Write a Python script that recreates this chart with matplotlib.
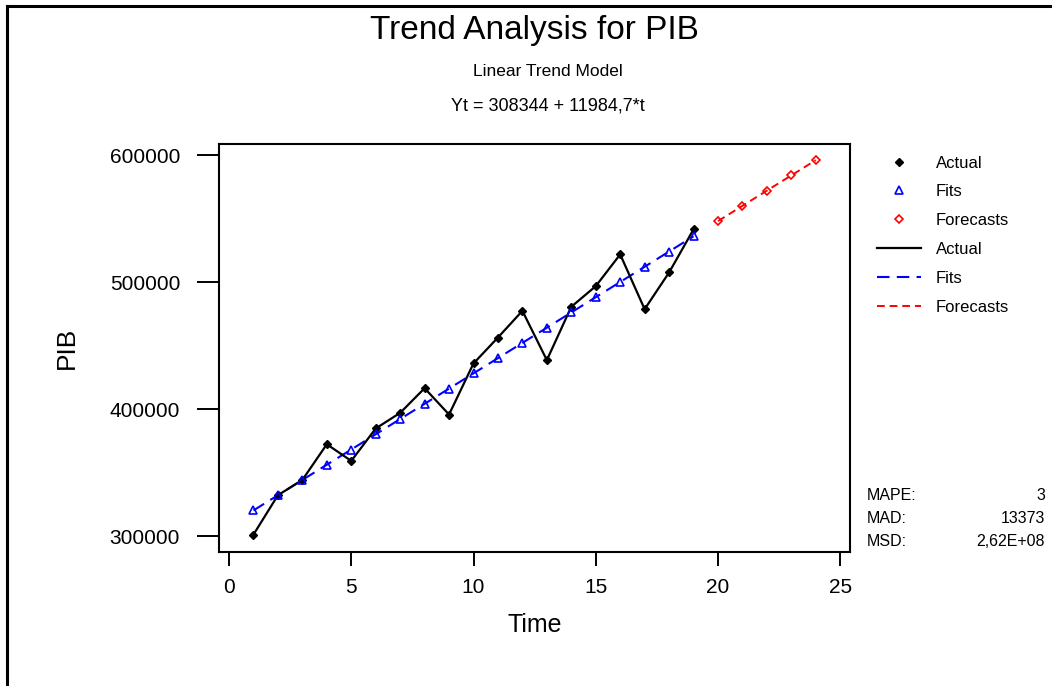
import numpy as np
import matplotlib
matplotlib.use('Agg')
import matplotlib.pyplot as plt
from matplotlib.lines import Line2D

# data
t_actual = list(range(1, 20))
actual = [301300, 332300, 344300, 372400, 359300, 384800, 397100, 416500, 395800,
          436000, 456400, 477400, 438600, 480600, 496800, 521800, 478700, 507600, 541500]
fits = [320329, 332313, 344298, 356283, 368268, 380252, 392237, 404222, 416206,
        428191, 440176, 452160, 464145, 476130, 488115, 500099, 512084, 524069, 536053]
t_fc = [20, 21, 22, 23, 24]
forecasts = [548038, 560023, 572007, 583992, 595977]

x_ticks = [0, 5, 10, 15, 20, 25]
y_ticks = [300000, 400000, 500000, 600000]
stat_names = ['MAPE:', 'MAD:', 'MSD:']
stat_values = ['3', '13373', '2,62E+08']

plt.rcParams['font.family'] = ['Liberation Sans', 'DejaVu Sans']

W, H = 1052, 686
fig = plt.figure(figsize=(W / 100, H / 100), dpi=100)
ax = fig.add_axes([219 / W, 1 - 552 / H, (850 - 219) / W, (552 - 144) / H])

ax.plot(t_actual, actual, color='black', lw=1.6, marker='D', ms=3.6, zorder=3)
ax.plot(t_actual, fits, color='blue', lw=1.5, dashes=(6, 3.5), zorder=2)
ax.plot(t_actual, fits, ls='none', marker='^', ms=6, mfc='none', mec='blue', mew=1.2, zorder=4)
ax.plot(t_fc, forecasts, color='red', lw=1.4, dashes=(4, 2.5), zorder=2)
ax.plot(t_fc, forecasts, ls='none', marker='D', ms=4.5, mfc='none', mec='red', mew=1.2, zorder=4)

ax.set_xlim(-0.41, 25.4)
ax.set_ylim(287600, 608700)
ax.set_xticks(x_ticks)
ax.set_yticks(y_ticks)
ax.set_yticklabels([str(v) for v in y_ticks])
ax.tick_params(axis='y', length=16, width=1.4, pad=12, labelsize=15)
ax.tick_params(axis='x', length=10, width=1.4, pad=9, labelsize=15)
for s in ax.spines.values():
    s.set_linewidth(1.5)

ax.set_ylabel('PIB', fontsize=19, labelpad=22)
ax.set_xlabel('Time', fontsize=18, labelpad=11)

fig.text(534 / W, 1 - 31 / H, 'Trend Analysis for PIB', fontsize=24,
         ha='center', va='center')
fig.text(548 / W, 1 - 71 / H, 'Linear Trend Model', fontsize=12.5,
         ha='center', va='center')
fig.text(548 / W, 1 - 106 / H, 'Yt = 308344 + 11984,7*t', fontsize=13,
         ha='center', va='center')

handles = [
    Line2D([], [], ls='none', marker='D', ms=3.6, color='black'),
    Line2D([], [], ls='none', marker='^', ms=6, mfc='none', mec='blue', mew=1.2),
    Line2D([], [], ls='none', marker='D', ms=4.5, mfc='none', mec='red', mew=1.2),
    Line2D([], [], color='black', lw=1.6),
    Line2D([], [], color='blue', lw=1.5, dashes=(6, 3.5)),
    Line2D([], [], color='red', lw=1.4, dashes=(4, 2.5)),
]
labels = ['Actual', 'Fits', 'Forecasts', 'Actual', 'Fits', 'Forecasts']
fig.legend(handles, labels, loc='upper left', bbox_to_anchor=(877 / W, 1 - 155.5 / H),
           frameon=False, fontsize=12, handlelength=2.64, handletextpad=0.9,
           labelspacing=0.83, borderpad=0, borderaxespad=0)

for i, (nm, val) in enumerate(zip(stat_names, stat_values)):
    y = 1 - (495 + 23.5 * i) / H
    fig.text(867 / W, y, nm, fontsize=11.5, ha='left', va='center')
    fig.text(1045 / W, y, val, fontsize=11.5, ha='right', va='center')

# outer frame (left and top edges visible)
fig.add_artist(Line2D([7 / W, 7 / W], [0, 1 - 6 / H], color='black', lw=2.2,
                      transform=fig.transFigure))
fig.add_artist(Line2D([7 / W, 1], [1 - 6 / H, 1 - 6 / H], color='black', lw=2.2,
                      transform=fig.transFigure))

fig.savefig('out.png', dpi=100)
